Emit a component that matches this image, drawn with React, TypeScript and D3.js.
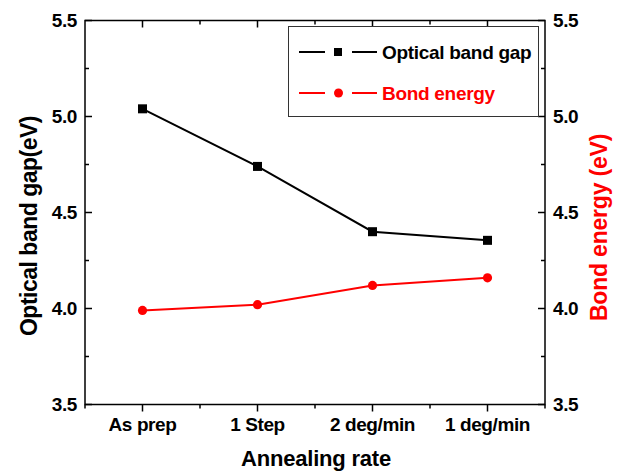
import React from "react";
import * as d3 from "d3";

const categories = ["As prep", "1 Step", "2 deg/min", "1 deg/min"];
const opticalBandGap = [5.04, 4.74, 4.4, 4.355];
const bondEnergy = [3.99, 4.02, 4.12, 4.16];
const yTicks = [3.5, 4.0, 4.5, 5.0, 5.5];
const yMinorTicks = [3.75, 4.25, 4.75, 5.25];
const seriesNames = ["Optical band gap", "Bond energy"];

const W = 620;
const H = 475;
const left = 85;
const right = 545;
const top = 20.5;
const bottom = 404.5;
const FONT = "'Liberation Sans', Arial, sans-serif";

export default function App() {
  const x = d3.scalePoint<string>().domain(categories).range([left, right]).padding(0.5);
  const step = x.step();
  const yL = d3.scaleLinear().domain([3.5, 5.5]).range([bottom, top]);
  const yR = d3.scaleLinear().domain([3.5, 5.5]).range([bottom, top]);
  const line = (ys: d3.ScaleLinear<number, number>) =>
    d3
      .line<number>()
      .x((_, i) => x(categories[i]) as number)
      .y((d) => ys(d));
  const minorX = categories.slice(0, -1).map((c) => (x(c) as number) + step / 2);

  return (
    <svg
      width={W}
      height={H}
      style={{ position: "absolute", left: 0, top: 0, background: "#fff" }}
      fontFamily={FONT}
    >
      <rect x={0} y={0} width={W} height={H} fill="#fff" />
      {/* frame */}
      <rect x={left} y={top} width={right - left} height={bottom - top} fill="none" stroke="#000" strokeWidth={1.5} />

      {/* left axis ticks */}
      {yTicks.map((t) => (
        <g key={"l" + t}>
          <line x1={left} x2={left + 7} y1={yL(t)} y2={yL(t)} stroke="#000" strokeWidth={1.5} />
          <text x={77} y={yL(t)} dy="0.36em" textAnchor="end" fontSize={19} fontWeight="bold" letterSpacing={-0.4}>
            {t.toFixed(1)}
          </text>
          <line x1={right} x2={right - 7} y1={yR(t)} y2={yR(t)} stroke="#000" strokeWidth={1.5} />
          <text x={553} y={yR(t)} dy="0.36em" textAnchor="start" fontSize={19} fontWeight="bold" letterSpacing={-0.4}>
            {t.toFixed(1)}
          </text>
        </g>
      ))}
      {yMinorTicks.map((t) => (
        <g key={"lm" + t}>
          <line x1={left} x2={left + 4} y1={yL(t)} y2={yL(t)} stroke="#000" strokeWidth={1.5} />
          <line x1={right} x2={right - 4} y1={yR(t)} y2={yR(t)} stroke="#000" strokeWidth={1.5} />
        </g>
      ))}

      {/* bottom / top ticks */}
      {categories.map((c) => (
        <g key={"b" + c}>
          <line x1={x(c)} x2={x(c)} y1={bottom} y2={bottom + 7} stroke="#000" strokeWidth={1.5} />
          <line x1={x(c)} x2={x(c)} y1={top} y2={top + 7} stroke="#000" strokeWidth={1.5} />
          <text x={x(c)} y={431} textAnchor="middle" fontSize={19} fontWeight="bold" letterSpacing={-0.4}>
            {c}
          </text>
        </g>
      ))}
      {minorX.map((m, i) => (
        <g key={"bm" + i}>
          <line x1={m} x2={m} y1={bottom} y2={bottom + 4} stroke="#000" strokeWidth={1.5} />
          <line x1={m} x2={m} y1={top} y2={top + 4} stroke="#000" strokeWidth={1.5} />
        </g>
      ))}
      <line x1={left} x2={left} y1={bottom} y2={bottom + 4} stroke="#000" strokeWidth={1.5} />
      <line x1={right} x2={right} y1={bottom} y2={bottom + 4} stroke="#000" strokeWidth={1.5} />

      {/* axis titles */}
      <text x={(left + right) / 2 + 1} y={466} textAnchor="middle" fontSize={22} fontWeight="bold" letterSpacing={-0.2}>
        Annealing rate
      </text>
      <text
        transform={`translate(37,226) rotate(-90)`}
        textAnchor="middle"
        fontSize={23}
        fontWeight="bold"
        letterSpacing={-0.5}
      >
        Optical band gap(eV)
      </text>
      <text
        transform={`translate(607,227.5) rotate(-90)`}
        textAnchor="middle"
        fontSize={23}
        fontWeight="bold"
        fill="#ff0000"
        letterSpacing={-0.2}
      >
        Bond energy (eV)
      </text>

      {/* series */}
      <path d={line(yL)(opticalBandGap) || ""} fill="none" stroke="#000" strokeWidth={2} />
      {opticalBandGap.map((v, i) => (
        <rect key={"s" + i} x={(x(categories[i]) as number) - 4.5} y={yL(v) - 4.5} width={9} height={9} fill="#000" />
      ))}
      <path d={line(yR)(bondEnergy) || ""} fill="none" stroke="#ff0000" strokeWidth={2} />
      {bondEnergy.map((v, i) => (
        <circle key={"c" + i} cx={x(categories[i]) as number} cy={yR(v)} r={4.6} fill="#ff0000" />
      ))}

      {/* legend */}
      <rect x={288.5} y={26.5} width={250} height={90} fill="#fff" stroke="#333" strokeWidth={1} />
      <g>
        <line x1={299} x2={325} y1={52} y2={52} stroke="#000" strokeWidth={2} />
        <line x1={352} x2={377} y1={52} y2={52} stroke="#000" strokeWidth={2} />
        <rect x={334} y={48} width={8} height={8} fill="#000" />
        <text x={382} y={52} dy="0.36em" fontSize={19} fontWeight="bold" letterSpacing={-0.3}>
          {seriesNames[0]}
        </text>
        <line x1={299} x2={325} y1={93} y2={93} stroke="#ff0000" strokeWidth={2} />
        <line x1={352} x2={377} y1={93} y2={93} stroke="#ff0000" strokeWidth={2} />
        <circle cx={338.5} cy={93} r={4.5} fill="#ff0000" />
        <text x={382} y={93} dy="0.36em" fontSize={19} fontWeight="bold" fill="#ff0000" letterSpacing={-0.3}>
          {seriesNames[1]}
        </text>
      </g>
    </svg>
  );
}
